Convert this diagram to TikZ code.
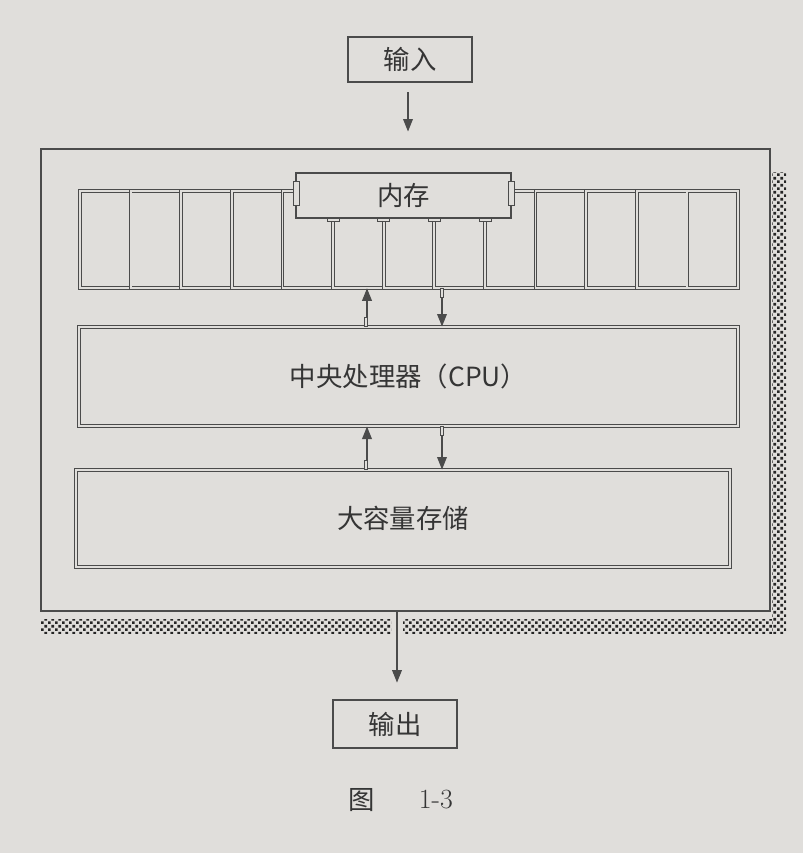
\documentclass[tikz,border=0pt]{standalone}
\usepackage{fontspec}
\newfontfamily\cjk{Noto Sans CJK SC}
\usetikzlibrary{arrows.meta,patterns}
\definecolor{paper}{RGB}{224,222,219}
\definecolor{ink}{RGB}{75,75,75}
\pgfdeclarepatternformonly{coarsedots}{\pgfpointorigin}{\pgfpoint{5pt}{5pt}}{\pgfpoint{5pt}{5pt}}{
  \pgfpathrectangle{\pgfpointorigin}{\pgfpoint{1.9pt}{1.9pt}}
  \pgfpathrectangle{\pgfpoint{2.5pt}{2.5pt}}{\pgfpoint{1.9pt}{1.9pt}}
  \pgfusepath{fill}}
\tikzset{
  box/.style={draw=ink, line width=1pt, fill=paper, inner sep=0pt,
    font=\cjk\fontsize{19}{23}\selectfont, text=ink!70!black},
  dbl/.style={draw=ink, line width=0.7pt, double=paper, double distance=1.3pt},
  arr/.style={draw=ink, line width=0.8pt, -{Triangle[width=7pt,length=9pt]}},
  tab/.style={draw=ink, line width=0.5pt, fill=paper},
  shadow/.style={pattern=coarsedots, pattern color=ink!50!black},
}

\begin{document}
\begin{tikzpicture}[x=0.72pt,y=-0.72pt]
\useasboundingbox[fill=paper] (0,0) rectangle (803,853);

% frame and its shadow
\fill[shadow] (772,172) rectangle (786,633);
\fill[shadow] (41,619) rectangle (391,633);
\fill[shadow] (403,619) rectangle (772,633);
\node[box, line width=1.2pt, minimum width=524.9pt, minimum height=332.6pt] (outer) at (405.5,380) {};

% memory cells
\node[inner sep=0pt, minimum width=473.8pt, minimum height=69.8pt] (cells) at (409,239.5) {};
\foreach \i in {0,...,12}
  \draw[dbl] (80+\i*50.615,191) rectangle ++(50.615,97);

\node[box, minimum width=154.8pt, minimum height=32.4pt] (mem) at (403.5,195.5) {内存};
\draw[tab] (293,181) rectangle (299,205);
\draw[tab] (508,181) rectangle (514,205);
\foreach \i in {5,...,8}
  \draw[tab] (80+\i*50.615-6,218) rectangle ++(12,3);

\node[box, dbl, minimum width=474.5pt, minimum height=71.3pt] (cpu) at (408.5,376.5) {中央处理器（CPU）};
\node[box, dbl, minimum width=470.9pt, minimum height=69.8pt] (storage) at (403,518.5) {大容量存储};

% data paths
\coordinate (upx) at (367,0);
\coordinate (dnx) at (442,0);
\draw[arr] (cpu.north -| upx) -- (cells.south -| upx);
\draw[arr] (cells.south -| dnx) -- (cpu.north -| dnx);
\draw[arr] (storage.north -| upx) -- (cpu.south -| upx);
\draw[arr] (cpu.south -| dnx) -- (storage.north -| dnx);
\draw[tab] ([xshift=-2pt]cpu.north -| upx) rectangle ++(3,-9);
\draw[tab] ([xshift=-2pt]storage.north -| upx) rectangle ++(3,-9);
\draw[tab] ([xshift=-1pt]cells.south -| dnx) rectangle ++(3,9);
\draw[tab] ([xshift=-1pt]cpu.south -| dnx) rectangle ++(3,9);

% input and output
\node[box, minimum width=89.3pt, minimum height=32.4pt] (input) at (410,59.5) {输入};
\node[box, minimum width=89.3pt, minimum height=34.6pt] (output) at (395,724) {输出};
\coordinate (inx) at (408,0);
\coordinate (outx) at (397,0);
\draw[arr, shorten <=7pt, shorten >=12pt] (input.south -| inx) -- (outer.north -| inx);
\draw[arr, shorten >=12pt] (outer.south -| outx) -- (output.north -| outx);

\node[font=\cjk\fontsize{19}{23}\selectfont, text=ink!70!black] (figword) at (362,800) {图};
\node[font=\fontsize{20}{24}\selectfont, text=ink!70!black, anchor=west] (fignum) at (414,800) {1-3};
\end{tikzpicture}
\end{document}
